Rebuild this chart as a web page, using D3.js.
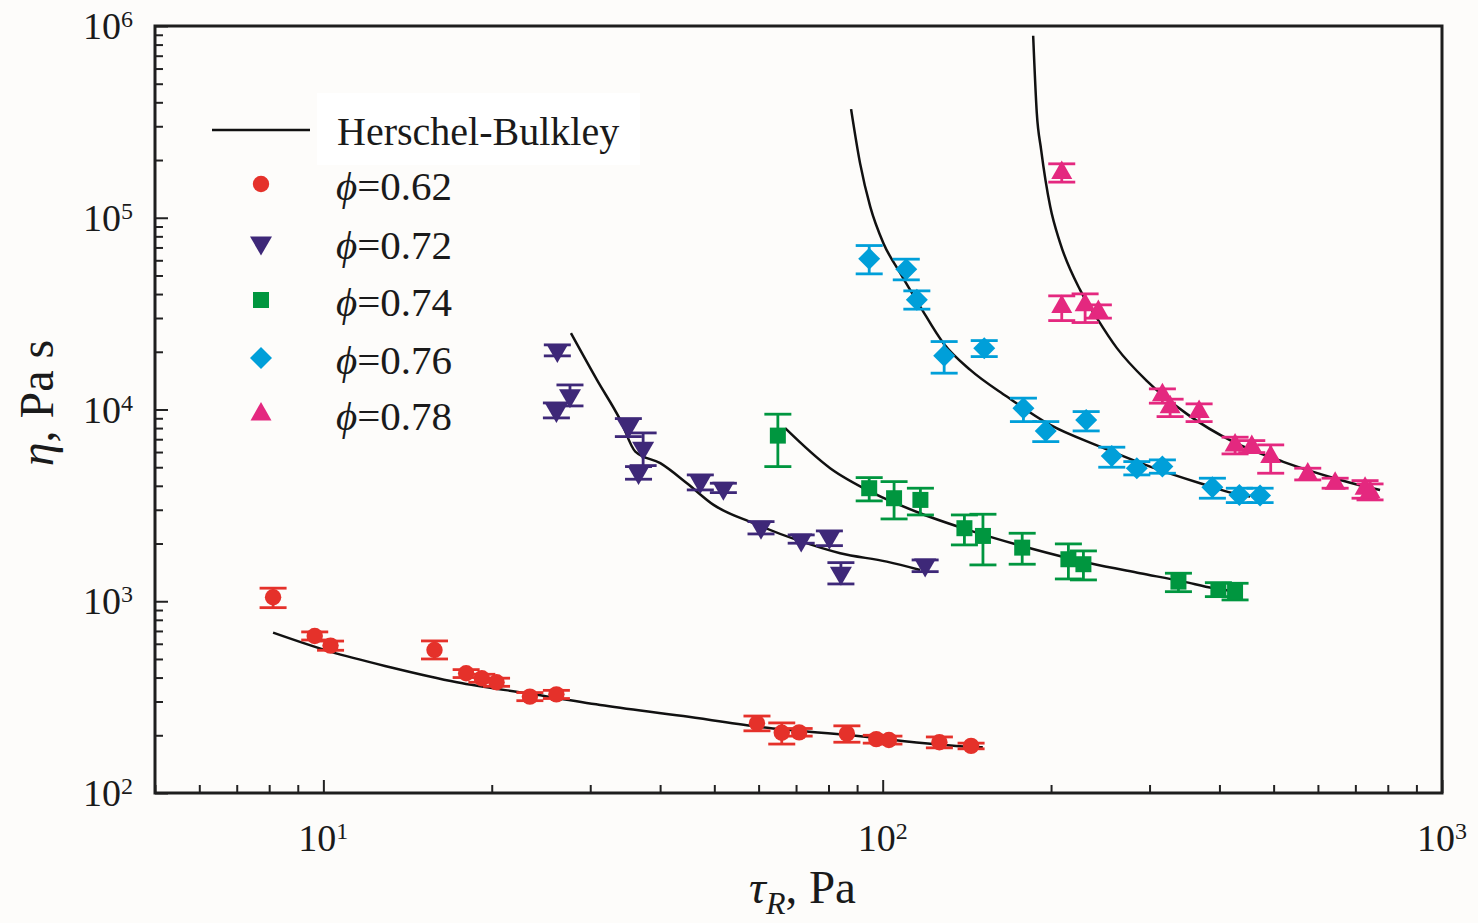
<!DOCTYPE html>
<html><head><meta charset="utf-8">
<script src="https://cdn.jsdelivr.net/npm/d3@7"></script>
<style>body{margin:0;background:#fdfcfa}svg{display:block}</style>
</head><body><svg id="c" width="1478" height="923"></svg>
<script>
// ---------- data (tau_R in Pa, eta in Pa s) ----------
const tau062 = [8.13, 9.65, 10.3, 15.8, 18.0, 19.2, 20.4, 23.4, 26.1, 59.6, 66.0, 70.9, 86.3, 97.4, 102.6, 126.3, 143.9];
const eta062 = [1049, 659, 587, 557, 421, 397, 378, 318, 327, 231, 206, 207, 204, 191, 189, 184, 176];
const lo062  = [926, 628, 555, 500, 400, 378, 360, 303, 311, 211, 180, 198, 184, 182, 180, 172, 170];
const hi062  = [1170, 692, 620, 621, 440, 416, 397, 334, 343, 252, 232, 217, 224, 200, 198, 196, 182];

const tau072 = [26.2, 27.6, 26.1, 35.1, 37.3, 36.6, 47.2, 51.9, 60.6, 71.5, 80.3, 84.2, 119.1];
const eta072 = [20290, 11780, 9870, 8143, 6284, 4687, 4206, 3886, 2433, 2088, 2157, 1400, 1547];
const lo072  = [19040, 10440, 9040, 7222, 5100, 4329, 3807, 3686, 2244, 2008, 1950, 1231, 1427];
const hi072  = [21730, 13430, 10820, 8967, 7548, 5038, 4559, 4125, 2602, 2218, 2327, 1590, 1642];

const tau074 = [64.95, 94.6, 104.8, 116.8, 140.0, 151.1, 177.6, 214.8, 228.5, 337.9, 398.3, 426.6];
const eta074 = [7309, 3886, 3446, 3377, 2404, 2191, 1904, 1656, 1560, 1266, 1146, 1122];
const lo074  = [5038, 3337, 2687, 2819, 1967, 1547, 1560, 1307, 1292, 1122, 1057, 1016];
const hi074  = [9452, 4414, 4206, 3886, 2819, 2843, 2263, 1991, 1830, 1400, 1250, 1241];

const tau076 = [94.6, 110.2, 115.1, 128.8, 151.9, 178.5, 195.7, 231.1, 256.8, 284.7, 316.3, 388.6, 434.2, 472.9];
const eta076 = [61050, 53950, 37300, 19040, 20880, 10160, 7732, 8825, 5727, 4941, 5038, 3933, 3585, 3556];
const lo076  = [50980, 47440, 33370, 15470, 18880, 8648, 6800, 7732, 5000, 4559, 4652, 3446, 3269, 3269];
const hi076  = [71620, 60810, 41560, 22610, 22880, 11460, 8648, 9752, 6359, 5350, 5460, 4382, 3886, 3886];

const tau078 = [209.0, 209.0, 230.1, 243.0, 316.3, 326.5, 367.9, 426.6, 457.0, 494.0, 575.4, 644.1, 728.5, 743.6];
const eta078 = [172100, 34430, 35130, 32410, 11920, 10350, 9752, 6537, 6406, 5679, 4613, 4125, 3886, 3729];
const lo078  = [153400, 29090, 28410, 29950, 10790, 9183, 8648, 5867, 5960, 4652, 4293, 3886, 3446, 3377];
const hi078  = [191100, 39140, 40090, 35130, 12810, 11320, 10700, 7170, 6884, 6537, 4941, 4382, 4257, 4091];

// Herschel-Bulkley fit curves
const fitTau062 = [8.13, 10.29, 13.17, 17.33, 23.44, 31.26, 44.0, 59.6, 87.5, 143.9, 151];
const fitEta062 = [686, 546, 453, 378, 329, 288, 252, 222, 200, 174, 173];
const fitTau072 = [27.71, 30.84, 33.95, 36.12, 40.03, 44.67, 49.85, 58.75, 70.24, 83.95, 101.7, 116.7];
const fitEta072 = [25000, 14270, 8825, 6032, 5248, 4125, 3180, 2553, 2088, 1780, 1609, 1456];
const fitTau074 = [66.93, 80.55, 96.27, 116.7, 145.3, 183.5, 234.9, 288.5, 344.8, 390.0, 426.6];
const fitEta074 = [7989, 4941, 3660, 2877, 2308, 1890, 1578, 1400, 1266, 1169, 1128];
const fitTau076 = [87.8, 91.1, 95.0, 100.3, 107.5, 116.7, 128.4, 143.4, 166.7, 199.3, 244.7, 300.7, 369.4, 423.6, 453.9];
const fitEta076 = [368600, 192700, 114400, 73720, 51400, 34430, 22170, 16090, 11680, 8311, 6406, 5038, 4125, 3660, 3512];
const fitTau078 = [185.8, 188.6, 192.0, 199.3, 207.6, 225.4, 241.4, 262.1, 296.6, 349.7, 423.6, 520.4, 639.5, 733.5, 774.9];
const fitEta078 = [889000, 351300, 226100, 114400, 73980, 42060, 30050, 20960, 14100, 9487, 6776, 5331, 4397, 3947, 3807];

const seriesNames = ["0.62", "0.72", "0.74", "0.76", "0.78"];
const seriesColors = ["#e5312a", "#3e2878", "#00963f", "#009fd9", "#e4287f"];
const seriesShapes = ["circle", "triangleDown", "square", "diamond", "triangleUp"];
const xTickExponents = [1, 2, 3];
const yTickExponents = [2, 3, 4, 5, 6];
const fitLabel = "Herschel-Bulkley";

// ---------- layout ----------
const svg = d3.select("#c");
const L = 155, R = 1442, T = 26, B = 793;
const x = d3.scaleLog().domain([5, 1000]).range([L, R]);
const y = d3.scaleLog().domain([100, 1e6]).range([B, T]);
const FONT = "'Liberation Serif','Times New Roman',serif";

const series = [
  {tau: tau062, eta: eta062, lo: lo062, hi: hi062, ft: fitTau062, fe: fitEta062},
  {tau: tau072, eta: eta072, lo: lo072, hi: hi072, ft: fitTau072, fe: fitEta072},
  {tau: tau074, eta: eta074, lo: lo074, hi: hi074, ft: fitTau074, fe: fitEta074},
  {tau: tau076, eta: eta076, lo: lo076, hi: hi076, ft: fitTau076, fe: fitEta076},
  {tau: tau078, eta: eta078, lo: lo078, hi: hi078, ft: fitTau078, fe: fitEta078}
].map((s, i) => ({...s, name: seriesNames[i], color: seriesColors[i], shape: seriesShapes[i]}));

function shapePath(shape) {
  switch (shape) {
    case "circle": return d3.symbol(d3.symbolCircle, Math.PI * 8.2 * 8.2)();
    case "square": return "M-8,-8H8V8H-8Z";
    case "diamond": return "M0,-11L11,0L0,11L-11,0Z";
    case "triangleDown": return "M-11,-6.5L11,-6.5L0,12.5Z";
    case "triangleUp": return "M-10.5,6.5L10.5,6.5L0,-12Z";
  }
}

// ---------- axes (ticks inside) ----------
const minorX = [], minorY = [];
for (let e = 0; e <= 2; e++) for (let m = 2; m <= 9; m++) { const v = m * Math.pow(10, e); if (v >= 5 && v <= 1000) minorX.push(v); }
for (let e = 2; e <= 5; e++) for (let m = 2; m <= 9; m++) minorY.push(m * Math.pow(10, e));
const majorX = xTickExponents.map(e => Math.pow(10, e));
const majorY = yTickExponents.map(e => Math.pow(10, e));

function styleAxis(g) {
  g.select(".domain").remove();
  g.selectAll(".tick line").attr("stroke", "#222").attr("stroke-width", 2);
}
svg.append("g").attr("transform", `translate(0,${B})`)
  .call(d3.axisBottom(x).tickValues(minorX).tickSize(-8).tickFormat("")).call(styleAxis);
svg.append("g").attr("transform", `translate(0,${B})`)
  .call(d3.axisBottom(x).tickValues(majorX).tickSize(-13).tickFormat("")).call(styleAxis);
svg.append("g").attr("transform", `translate(${L},0)`)
  .call(d3.axisLeft(y).tickValues(minorY).tickSize(-8).tickFormat("")).call(styleAxis);
svg.append("g").attr("transform", `translate(${L},0)`)
  .call(d3.axisLeft(y).tickValues(majorY).tickSize(-13).tickFormat("")).call(styleAxis);

// frame
svg.append("rect").attr("x", L).attr("y", T).attr("width", R - L).attr("height", B - T)
  .attr("fill", "none").attr("stroke", "#1e1e1e").attr("stroke-width", 3);

// tick labels
xTickExponents.forEach(e => {
  const t = svg.append("text").attr("x", x(Math.pow(10, e))).attr("y", B + 58)
    .attr("text-anchor", "middle").attr("font-family", FONT).attr("font-size", 38).attr("fill", "#1a1a1a");
  t.append("tspan").text("10");
  t.append("tspan").attr("dy", -12).attr("font-size", 24).text(e);
});
yTickExponents.forEach(e => {
  const t = svg.append("text").attr("x", L - 22).attr("y", y(Math.pow(10, e)) + 13)
    .attr("text-anchor", "end").attr("font-family", FONT).attr("font-size", 38).attr("fill", "#1a1a1a");
  t.append("tspan").text("10");
  t.append("tspan").attr("dy", -12).attr("font-size", 24).text(e);
});

// axis titles
const xt = svg.append("text").attr("x", (L + R) / 2 + 4).attr("y", 903).attr("text-anchor", "middle")
  .attr("font-family", FONT).attr("font-size", 47).attr("fill", "#1a1a1a");
xt.append("tspan").attr("font-style", "italic").text("τ");
xt.append("tspan").attr("font-style", "italic").attr("font-size", 32).attr("dy", 11).text("R");
xt.append("tspan").attr("dy", -11).text(", Pa");

const yt = svg.append("text").attr("transform", `translate(53,${403}) rotate(-90)`).attr("text-anchor", "middle")
  .attr("font-family", FONT).attr("font-size", 48).attr("fill", "#1a1a1a");
yt.append("tspan").attr("font-style", "italic").text("η");
yt.append("tspan").text(", Pa s");

// ---------- fit curves ----------
const line = d3.line().x(d => x(d[0])).y(d => y(d[1])).curve(d3.curveMonotoneX);
const plot = svg.append("g");
series.forEach(s => {
  plot.append("path").datum(s.ft.map((t, i) => [t, s.fe[i]]))
    .attr("d", line).attr("fill", "none").attr("stroke", "#111").attr("stroke-width", 2.5);
});

// ---------- error bars + markers ----------
const CAP = 13.5;
series.forEach(s => {
  const g = plot.append("g").attr("stroke", s.color).attr("stroke-width", 2.8).attr("fill", "none");
  s.tau.forEach((t, i) => {
    const cx = x(t);
    g.append("line").attr("x1", cx).attr("x2", cx).attr("y1", y(s.lo[i])).attr("y2", y(s.hi[i]));
    g.append("line").attr("x1", cx - CAP).attr("x2", cx + CAP).attr("y1", y(s.lo[i])).attr("y2", y(s.lo[i]));
    g.append("line").attr("x1", cx - CAP).attr("x2", cx + CAP).attr("y1", y(s.hi[i])).attr("y2", y(s.hi[i]));
  });
  plot.append("g").selectAll("path").data(s.tau.map((t, i) => [t, s.eta[i]])).join("path")
    .attr("transform", d => `translate(${x(d[0])},${y(d[1])})`)
    .attr("d", shapePath(s.shape)).attr("fill", s.color);
});

// ---------- legend ----------
const lg = svg.append("g");
lg.append("rect").attr("x", 317).attr("y", 93).attr("width", 323).attr("height", 72).attr("fill", "#ffffff");
lg.append("line").attr("x1", 212).attr("x2", 310).attr("y1", 130).attr("y2", 130)
  .attr("stroke", "#111").attr("stroke-width", 2.5);
lg.append("text").attr("x", 337).attr("y", 145).attr("font-family", FONT).attr("font-size", 40)
  .attr("fill", "#1a1a1a").text(fitLabel);
const rowY = [184, 243, 300, 358, 414];
series.forEach((s, i) => {
  lg.append("path").attr("transform", `translate(261,${rowY[i]})`).attr("d", shapePath(s.shape)).attr("fill", s.color);
  const t = lg.append("text").attr("x", 336).attr("y", rowY[i] + 16).attr("font-family", FONT)
    .attr("font-size", 41).attr("fill", "#1a1a1a");
  t.append("tspan").attr("font-style", "italic").text("ϕ");
  t.append("tspan").text("=0." + s.name.slice(2));
});
</script></body></html>
